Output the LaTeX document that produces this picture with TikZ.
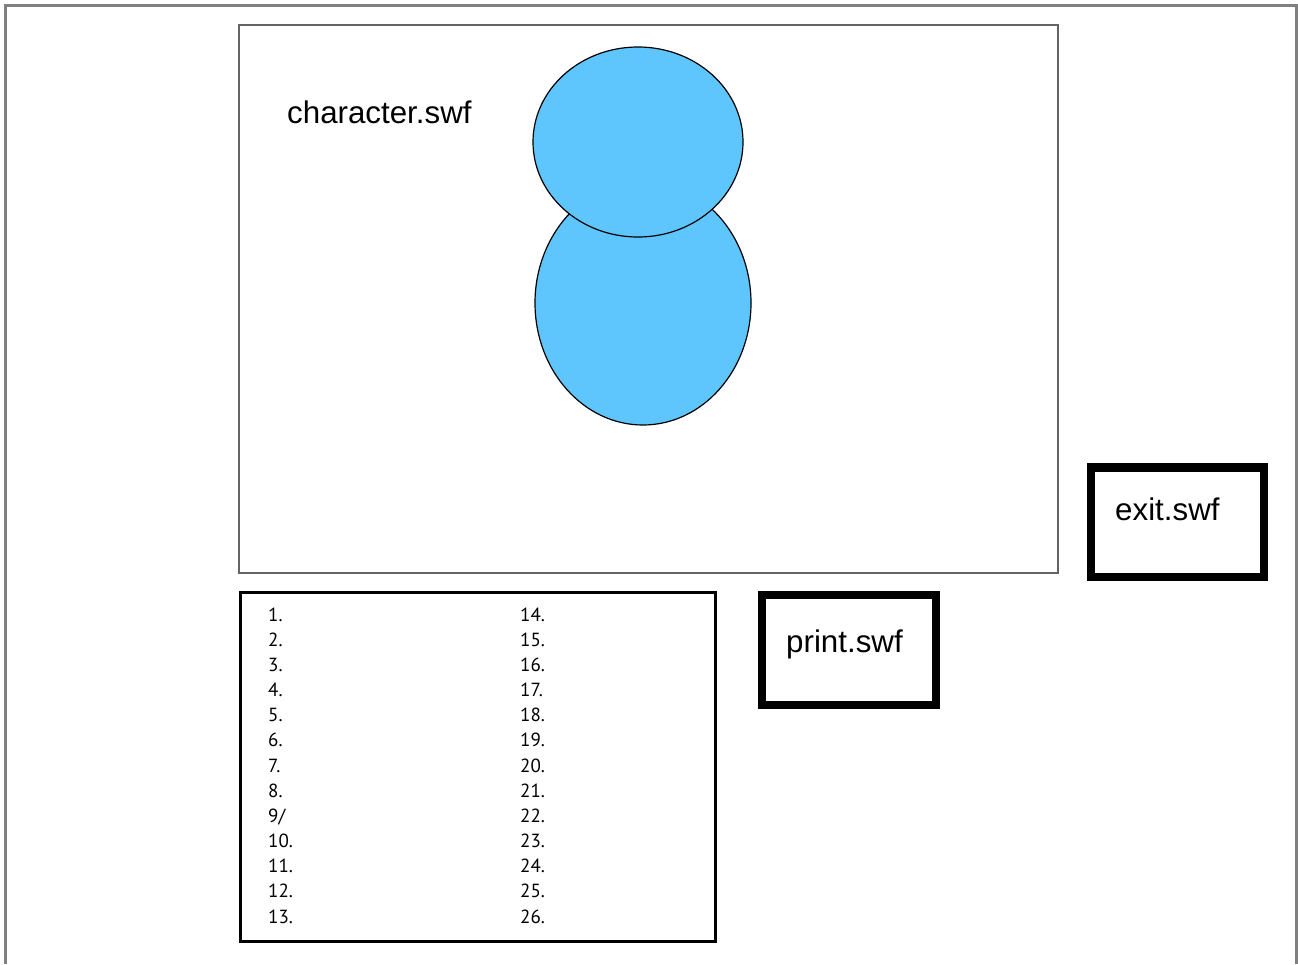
\documentclass[tikz,border=0pt]{standalone}
\usepackage{fontspec}
\setmainfont{Liberation Sans}
\newfontfamily\listfont{PT Sans}
\usetikzlibrary{shapes.geometric}
\definecolor{bodyblue}{RGB}{95,198,253}
\definecolor{framegray}{RGB}{128,128,128}
\definecolor{stagegray}{RGB}{100,100,100}

\begin{document}
\begin{tikzpicture}[x=1pt,y=-1pt,
    swflabel/.style={anchor=base west,inner sep=0pt,font=\fontsize{31.3}{37}\selectfont},
    listitem/.style={anchor=base west,inner sep=0pt,font=\listfont\fontsize{19}{23}\selectfont},
    heavybox/.style={draw,line width=8.5pt,inner sep=0pt},
    blob/.style={draw,ellipse,fill=bodyblue,line width=1.2pt,inner sep=0pt}]
    \useasboundingbox (0,0) rectangle (1298,964);
    \fill[white] (0,0) rectangle (1298,964);
    \draw[framegray,line width=3pt] (5.5,964) -- (5.5,5.5) -- (1296.5,5.5) -- (1296.5,964);
    % stage with the character
    \node[draw=stagegray,line width=1.6pt,inner sep=0pt,minimum width=819pt,minimum height=548pt] (stage) at (648.5,299) {};
    \node[swflabel] (charname) at (287,123) {character.swf};
    \node[blob,minimum width=216pt,minimum height=244pt] (body) at (643,303) {};
    \node[blob,minimum width=210pt,minimum height=190pt] (head) at (638,142) {};
    % numbered list
    \node[draw,line width=3pt,inner sep=0pt,minimum width=475pt,minimum height=349pt] (list) at (477.5,766.5) {};
    \foreach \t [count=\i] in {1.,2.,3.,4.,5.,6.,7.,8.,9/,10.,11.,12.,13.}
      \node[listitem] (n\i) at (268,{621+(\i-1)*25.17}) {\t};
    \foreach \i in {14,...,26}
      \node[listitem] (n\i) at (520,{621+(\i-14)*25.17}) {\i.};
    % buttons
    \node[heavybox,minimum width=174pt,minimum height=110pt] (print) at (849,650) {};
    \node[swflabel] (printname) at (786,652) {print.swf};
    \node[heavybox,minimum width=173pt,minimum height=109.5pt] (exit) at (1177.5,522.25) {};
    \node[swflabel] (exitname) at (1115,520) {exit.swf};
\end{tikzpicture}
\end{document}
